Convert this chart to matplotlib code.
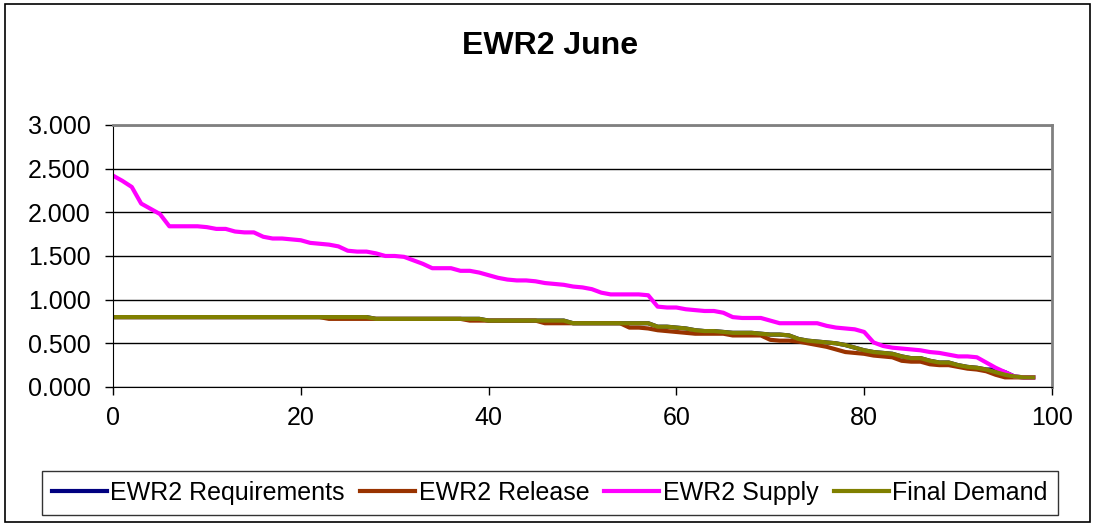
import numpy as np
import matplotlib.pyplot as plt
from matplotlib.patches import Rectangle

plt.rcParams['font.family'] = ['Liberation Sans', 'DejaVu Sans']

# Exceedance-style series, x = 0..98
x = np.arange(99)

supply = [2.42, 2.36, 2.29, 2.10, 2.04, 1.98, 1.84, 1.84, 1.84, 1.84,
          1.83, 1.81, 1.81, 1.78, 1.77, 1.77, 1.72, 1.70, 1.70, 1.69,
          1.68, 1.65, 1.64, 1.63, 1.61, 1.56, 1.55, 1.55, 1.53, 1.50,
          1.50, 1.49, 1.45, 1.41, 1.36, 1.36, 1.36, 1.33, 1.33, 1.31,
          1.28, 1.25, 1.23, 1.22, 1.22, 1.21, 1.19, 1.18, 1.17, 1.15,
          1.14, 1.12, 1.08, 1.06, 1.06, 1.06, 1.06, 1.05, 0.92, 0.91,
          0.91, 0.89, 0.88, 0.87, 0.87, 0.85, 0.80, 0.79, 0.79, 0.79,
          0.76, 0.73, 0.73, 0.73, 0.73, 0.73, 0.70, 0.68, 0.67, 0.66,
          0.63, 0.51, 0.47, 0.45, 0.44, 0.43, 0.42, 0.40, 0.39, 0.37,
          0.35, 0.35, 0.34, 0.28, 0.22, 0.17, 0.12, 0.11, 0.11]

final_demand = [0.80] * 28 + [0.78] * 12 + [0.76] * 9 + [0.73] * 9 + \
    [0.69, 0.69, 0.68, 0.67, 0.65, 0.64, 0.64, 0.63, 0.62, 0.62,
     0.62, 0.61, 0.60, 0.60, 0.59, 0.55, 0.53, 0.52, 0.51, 0.50,
     0.48, 0.45, 0.42, 0.40, 0.39, 0.38, 0.35, 0.33, 0.33, 0.30,
     0.28, 0.28, 0.25, 0.23, 0.22, 0.20, 0.17, 0.14, 0.12, 0.11, 0.11]

release = [0.80] * 23 + [0.78] * 15 + [0.76] * 8 + [0.73] * 9 + \
    [0.68, 0.68, 0.67, 0.65, 0.64, 0.63, 0.62, 0.61, 0.61, 0.61,
     0.61, 0.59, 0.59, 0.59, 0.59, 0.54, 0.53, 0.53, 0.52, 0.50,
     0.48, 0.46, 0.43, 0.40, 0.39, 0.38, 0.36, 0.35, 0.34, 0.30,
     0.29, 0.29, 0.26, 0.25, 0.25, 0.23, 0.21, 0.20, 0.18, 0.14,
     0.11, 0.11, 0.11, 0.11]

requirements = list(final_demand)
requirements[94] = 0.20
requirements[95] = 0.17

fig = plt.figure(figsize=(10.95, 5.24), dpi=100)
ax = fig.add_axes([0.1032, 0.2615, 0.8575, 0.5])

lw = 3.0
ax.plot(x, requirements, color='#000080', lw=lw, label='EWR2 Requirements')
ax.plot(x, release, color='#993300', lw=lw, label='EWR2 Release')
ax.plot(x, supply, color='#FF00FF', lw=lw, label='EWR2 Supply')
ax.plot(x, final_demand, color='#808000', lw=lw, label='Final Demand')

ax.set_xlim(0, 100)
ax.set_ylim(0, 3)
ax.set_xticks(np.arange(0, 101, 20))
ax.set_yticks(np.arange(0, 3.01, 0.5))
ax.yaxis.set_major_formatter(plt.FuncFormatter(lambda v, p: f'{v:.3f}'))
ax.grid(axis='y', color='black', lw=1.0)
ax.set_axisbelow(True)
ax.tick_params(labelsize=18, length=6, width=1, color='black')
ax.tick_params(axis='x', pad=8)
ax.tick_params(axis='y', pad=10)
ax.spines['top'].set_color('#808080')
ax.spines['right'].set_color('#808080')
ax.spines['top'].set_linewidth(2)
ax.spines['right'].set_linewidth(2)

fig.text(0.502, 0.913, 'EWR2 June', ha='center', va='center',
         fontsize=23, fontweight='bold')

leg = fig.legend(loc='center', bbox_to_anchor=(0.502, 0.059), ncol=4,
                 fontsize=18, frameon=True, fancybox=False,
                 handlelength=2.2, handletextpad=0.15, columnspacing=0.6,
                 borderpad=0.4, borderaxespad=0)
leg.get_frame().set_edgecolor('black')
leg.get_frame().set_linewidth(1.0)

fig.patches.append(Rectangle((0.005, 0.004), 0.99, 0.988,
                             transform=fig.transFigure, fill=False,
                             edgecolor='black', lw=1.2))

fig.savefig('out.png', dpi=100)
